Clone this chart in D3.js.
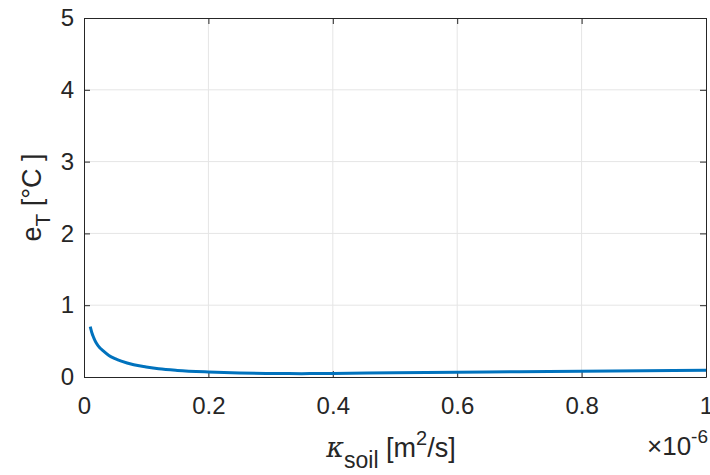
<!DOCTYPE html>
<html>
<head>
<meta charset="utf-8">
<script src="https://cdn.jsdelivr.net/npm/d3@7"></script>
<style>
  body { margin: 0; background: #fff; }
  svg text { font-family: "Liberation Sans", Arial, Helvetica, sans-serif; fill: #262626; }
</style>
</head>
<body>
<div id="chart"></div>
<script>
// data (x in units of 1e-6 m^2/s, y in degC)
var kappa = [0.01, 0.0125, 0.015, 0.0175, 0.02, 0.025, 0.03, 0.04, 0.05, 0.06, 0.08, 0.10, 0.12, 0.15,
             0.20, 0.25, 0.30, 0.35, 0.40, 0.50, 0.60, 0.70, 0.80, 0.90, 1.00];
var eT = [0.70, 0.62, 0.56, 0.51, 0.47, 0.41, 0.37, 0.30, 0.255, 0.22, 0.17, 0.14, 0.115, 0.092,
          0.07, 0.056, 0.049, 0.047, 0.05, 0.058, 0.066, 0.074, 0.081, 0.088, 0.095];
var xTicks = [0, 0.2, 0.4, 0.6, 0.8, 1];
var xTickLabels = ["0", "0.2", "0.4", "0.6", "0.8", "1"];
var yTicks = [0, 1, 2, 3, 4, 5];
var yTickLabels = ["0", "1", "2", "3", "4", "5"];

// set the dimensions and margins of the graph
var margin = {top: 18, right: 4, bottom: 98, left: 84},
    width = 710 - margin.left - margin.right,
    height = 475 - margin.top - margin.bottom;

var svg = d3.select("#chart")
  .append("svg")
    .attr("width", width + margin.left + margin.right)
    .attr("height", height + margin.top + margin.bottom)
  .append("g")
    .attr("transform", "translate(" + margin.left + "," + margin.top + ")");

var x = d3.scaleLinear().domain([0, 1]).range([0, width]);
var y = d3.scaleLinear().domain([0, 5]).range([height, 0]);

// grid
svg.append("g")
  .selectAll("line")
  .data(xTicks.slice(1, -1))
  .enter().append("line")
    .attr("x1", function(d) { return x(d); })
    .attr("x2", function(d) { return x(d); })
    .attr("y1", 0).attr("y2", height)
    .attr("stroke", "#e5e5e5").attr("stroke-width", 1);
svg.append("g")
  .selectAll("line")
  .data(yTicks.slice(1, -1))
  .enter().append("line")
    .attr("y1", function(d) { return y(d); })
    .attr("y2", function(d) { return y(d); })
    .attr("x1", 0).attr("x2", width)
    .attr("stroke", "#e5e5e5").attr("stroke-width", 1);

// axes (inward ticks, matlab style)
var xAxis = svg.append("g")
  .attr("transform", "translate(0," + height + ")")
  .call(d3.axisBottom(x).tickValues(xTicks)
    .tickFormat(function(d, i) { return xTickLabels[i]; })
    .tickSizeInner(-6).tickSizeOuter(0).tickPadding(20));
xAxis.selectAll("text").style("font-size", "24px").attr("dy", "0.71em");

var yAxis = svg.append("g")
  .call(d3.axisLeft(y).tickValues(yTicks)
    .tickFormat(function(d, i) { return yTickLabels[i]; })
    .tickSizeInner(-6).tickSizeOuter(0).tickPadding(10));
yAxis.selectAll("text").style("font-size", "24px");

svg.append("g")
  .call(d3.axisTop(x).tickValues(xTicks).tickFormat("")
    .tickSizeInner(-6).tickSizeOuter(0));
svg.append("g")
  .attr("transform", "translate(" + width + ",0)")
  .call(d3.axisRight(y).tickValues(yTicks).tickFormat("")
    .tickSizeInner(-6).tickSizeOuter(0));

svg.selectAll(".domain, .tick line").attr("stroke", "#262626").attr("stroke-width", 1);

// curve
var line = d3.line()
  .x(function(d, i) { return x(kappa[i]); })
  .y(function(d) { return y(d); })
  .curve(d3.curveMonotoneX);

svg.append("path")
  .datum(eT)
  .attr("fill", "none")
  .attr("stroke", "#0072BD")
  .attr("stroke-width", 3)
  .attr("d", line);

// x label
var xl = svg.append("text")
  .attr("text-anchor", "middle")
  .attr("x", width / 2 - 4)
  .attr("y", height + 80)
  .style("font-size", "27px");
xl.append("tspan").style("font-family", "'DejaVu Serif', serif").style("font-style", "italic").text("\u03BA");
xl.append("tspan").attr("dy", 11).style("font-size", "23px").text("soil");
xl.append("tspan").attr("dy", -11).text(" [m");
xl.append("tspan").attr("dy", -12).style("font-size", "20px").text("2");
xl.append("tspan").attr("dy", 12).text("/s]");

// exponent
var ex = svg.append("text")
  .attr("text-anchor", "end")
  .attr("x", width + 2)
  .attr("y", height + 78)
  .style("font-size", "26px");
ex.append("tspan").text("\u00D710");
ex.append("tspan").attr("dy", -12).style("font-size", "19px").text("-6");

// y label
var yl = svg.append("text")
  .attr("text-anchor", "middle")
  .attr("transform", "translate(" + (-43) + "," + (height / 2) + ") rotate(-90)")
  .style("font-size", "27px");
yl.append("tspan").text("e");
yl.append("tspan").attr("dy", 9).style("font-size", "21px").text("T");
yl.append("tspan").attr("dy", -9).text(" [\u00B0C ]");
</script>
</body>
</html>
